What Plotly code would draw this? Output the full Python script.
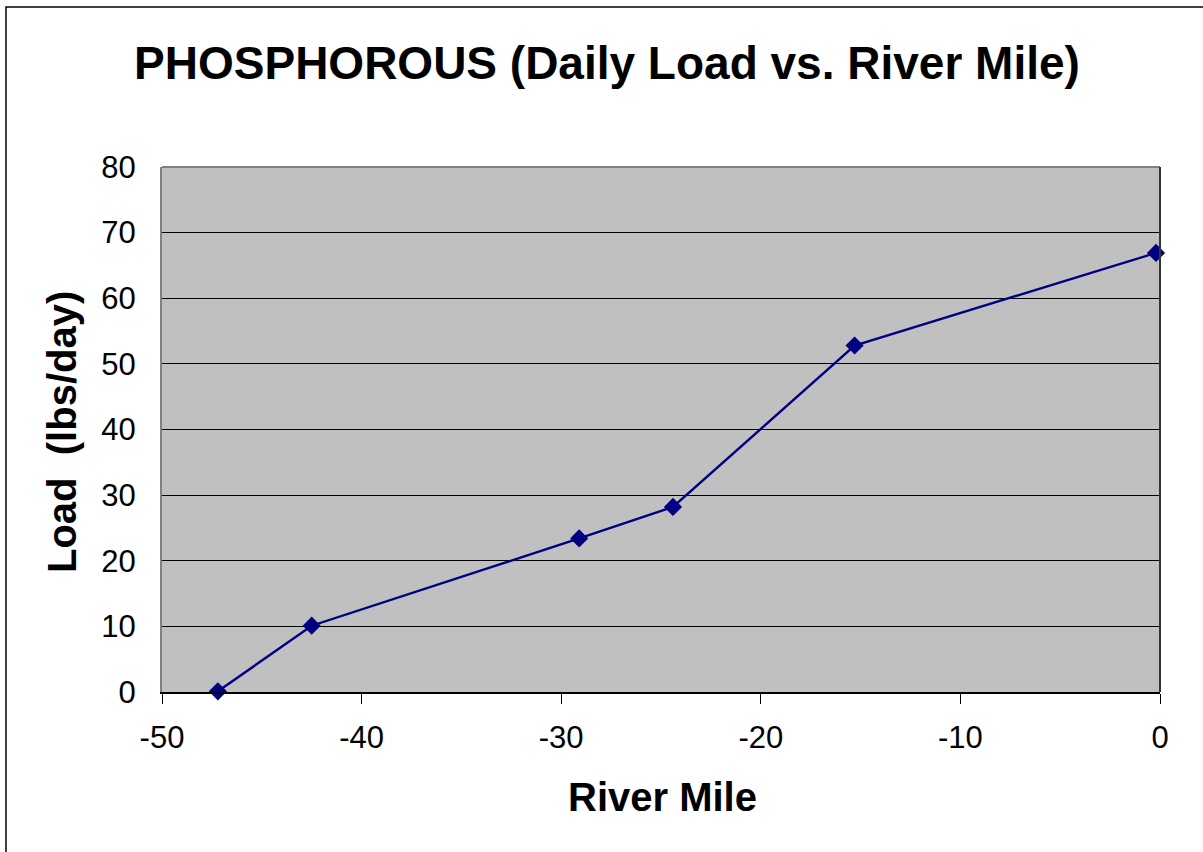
import plotly.graph_objects as go

river_mile = [-47.2, -42.5, -29.1, -24.4, -15.3, -0.2]
load = [0.1, 10.1, 23.4, 28.2, 52.8, 66.9]

x_ticks = [-50, -40, -30, -20, -10, 0]
x_labels = ["-50", "-40", "-30", "-20", "-10", "0"]

fig = go.Figure()
fig.add_trace(go.Scatter(
    x=river_mile,
    y=load,
    mode="lines+markers",
    line=dict(color="#000080", width=2.4),
    marker=dict(symbol="diamond", size=14, color="#000080"),
    cliponaxis=False,
    showlegend=False,
))

font = "Liberation Sans, Arial, sans-serif"

# plot area in page pixels: x 162..1160, y 167..692
L, R, T, B = 162, 1160, 167, 692
W, H = 1203, 852
pw, ph = R - L, B - T

fig.update_layout(
    width=W,
    height=H,
    margin=dict(l=L, r=W - R, t=T, b=H - B),
    paper_bgcolor="white",
    plot_bgcolor="#C0C0C0",
    font=dict(family=font, color="black"),
    title=dict(
        text="<b>PHOSPHOROUS (Daily Load vs. River Mile)</b>",
        x=607 / W, xanchor="center",
        y=1 - 63 / H, yanchor="middle",
        font=dict(size=46, family=font),
    ),
    xaxis=dict(
        range=[-50, 0], tickvals=x_ticks, ticktext=x_labels,
        showgrid=False, zeroline=False,
        showline=True, linecolor="black", linewidth=2,
        ticks="outside", ticklen=10, tickcolor="black",
        tickfont=dict(size=31), ticklabelstandoff=7,
    ),
    yaxis=dict(
        range=[0, 80], dtick=10, showgrid=True, gridcolor="black", gridwidth=1,
        zeroline=False, showline=True, linecolor="#808080", linewidth=2,
        ticks="", tickfont=dict(size=31), ticklabelstandoff=18,
    ),
    annotations=[
        dict(text="<b>River Mile</b>", xref="paper", yref="paper",
             x=(662 - L) / pw, y=-(797 - B) / ph,
             xanchor="center", yanchor="middle", showarrow=False,
             font=dict(size=40, family=font)),
        dict(text="<b>Load  (lbs/day)</b>", xref="paper", yref="paper",
             x=-(L - 62) / pw, y=(B - 432) / ph, textangle=-90,
             xanchor="center", yanchor="middle", showarrow=False,
             font=dict(size=40, family=font)),
    ],
    shapes=[
        # outer chart border
        dict(type="rect", xref="paper", yref="paper",
             x0=-(L - 6) / pw, x1=1.2, y0=-0.5, y1=1 + (T - 7) / ph,
             line=dict(color="black", width=1.5), layer="below"),
        # plot-area frame: top grey, right dark
        dict(type="line", xref="paper", yref="paper", x0=0, x1=1, y0=1, y1=1,
             line=dict(color="#808080", width=2)),
        dict(type="line", xref="paper", yref="paper", x0=1, x1=1, y0=0, y1=1,
             line=dict(color="#333333", width=2)),
    ],
)

fig.write_html("out.html", config={"displayModeBar": False},
               post_script="document.body.style.margin='0';")
